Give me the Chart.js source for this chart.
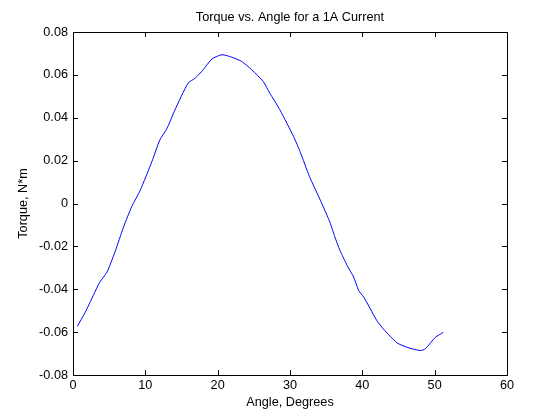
<!DOCTYPE html>
<html>
<head>
<meta charset="utf-8">
<script src="https://cdn.jsdelivr.net/npm/chart.js@4"></script>
<style>
  html, body { margin: 0; padding: 0; background: #fff; }
  #wrap { width: 560px; height: 420px; }
</style>
</head>
<body>
<div id="wrap"><canvas id="torque"></canvas></div>
<script>
// values
var angle = [0.6, 1.7, 2.8, 3.7, 4.7, 5.8, 7.0, 8.1, 9.3, 10.9, 12.0, 13.0, 14.1, 15.9,
  16.9, 18.0, 19.2, 20.6, 21.9, 23.3, 24.7, 26.3, 27.2, 28.6, 30.5, 31.4, 32.7, 34.2,
  35.5, 36.2, 36.9, 37.9, 38.8, 39.5, 40.2, 41.1, 42.0, 42.9, 44.8, 46.2, 48.0, 48.7,
  50.1, 51.2];
var torque = [-0.0573, -0.0507, -0.0429, -0.0367, -0.0320, -0.0226, -0.0109, -0.0016,
  0.0062, 0.0195, 0.0296, 0.0351, 0.0437, 0.0561, 0.0585, 0.0624, 0.0674, 0.0694, 0.0683,
  0.0663, 0.0624, 0.0569, 0.0515, 0.0437, 0.0312, 0.0241, 0.0125, 0.0015, -0.0086,
  -0.0156, -0.0218, -0.0289, -0.0343, -0.0406, -0.0437, -0.0491, -0.0546, -0.0585,
  -0.0650, -0.0671, -0.0686, -0.0678, -0.0624, -0.0601];

var xTicks = [0, 10, 20, 30, 40, 50, 60];
var xTickLabels = ['0', '10', '20', '30', '40', '50', '60'];
var yTicks = [-0.08, -0.06, -0.04, -0.02, 0, 0.02, 0.04, 0.06, 0.08];
var yTickLabels = ['-0.08', '-0.06', '-0.04', '-0.02', '0', '0.02', '0.04', '0.06', '0.08'];

var chartTitle = 'Torque vs. Angle for a 1A Current';
var xTitle = 'Angle, Degrees';
var yTitle = 'Torque, N*m';

var fontFam = '"Liberation Sans", Arial, sans-serif';
var fontSize = 12.7;

var points = angle.map(function (a, i) { return { x: a, y: torque[i] }; });

// matlab style box, inward ticks on all sides, title over the axes
var boxPlugin = {
  id: 'matlabBox',
  afterDraw: function (chart) {
    var ctx = chart.ctx;
    var a = chart.chartArea;
    var xs = chart.scales.x, ys = chart.scales.y;
    var tl = 5;
    ctx.save();
    ctx.strokeStyle = '#000';
    ctx.lineWidth = 1;
    ctx.strokeRect(Math.round(a.left) + 0.5, Math.round(a.top) + 0.5,
      Math.round(a.right - a.left), Math.round(a.bottom - a.top));
    ctx.beginPath();
    xTicks.forEach(function (v) {
      var px = Math.round(xs.getPixelForValue(v)) + 0.5;
      ctx.moveTo(px, a.bottom); ctx.lineTo(px, a.bottom - tl);
      ctx.moveTo(px, a.top); ctx.lineTo(px, a.top + tl);
    });
    yTicks.forEach(function (v) {
      var py = Math.round(ys.getPixelForValue(v)) + 0.5;
      ctx.moveTo(a.left, py); ctx.lineTo(a.left + tl, py);
      ctx.moveTo(a.right, py); ctx.lineTo(a.right - tl, py);
    });
    ctx.stroke();
    ctx.fillStyle = '#000';
    ctx.font = fontSize + 'px ' + fontFam;
    ctx.textAlign = 'center';
    ctx.textBaseline = 'middle';
    ctx.fillText(chartTitle, (a.left + a.right) / 2, a.top - 14.5);
    ctx.restore();
  }
};

new Chart(document.getElementById('torque'), {
  type: 'scatter',
  data: {
    datasets: [{
      label: yTitle,
      data: points,
      showLine: true,
      borderColor: '#0000ff',
      borderWidth: 1,
      pointRadius: 0,
      tension: 0.2,
      fill: false
    }]
  },
  options: {
    responsive: true,
    maintainAspectRatio: false,
    animation: false,
    layout: { padding: { top: 32, right: 53, left: 0, bottom: 0 } },
    plugins: {
      legend: { display: false },
      tooltip: { enabled: false },
      title: { display: false }
    },
    scales: {
      x: {
        type: 'linear',
        min: 0,
        max: 60,
        afterBuildTicks: function (s) { s.ticks = xTicks.map(function (v) { return { value: v }; }); },
        afterFit: function (s) { s.height = 45; },
        grid: { display: false, drawTicks: false },
        border: { display: false },
        ticks: {
          padding: 3,
          color: '#000',
          font: { family: fontFam, size: fontSize },
          maxRotation: 0,
          callback: function (v) { var i = xTicks.indexOf(v); return i >= 0 ? xTickLabels[i] : ''; }
        },
        title: {
          display: true,
          text: xTitle,
          color: '#000',
          font: { family: fontFam, size: fontSize },
          padding: { top: 0, bottom: 10 }
        }
      },
      y: {
        type: 'linear',
        min: -0.08,
        max: 0.08,
        afterBuildTicks: function (s) { s.ticks = yTicks.map(function (v) { return { value: v }; }); },
        afterFit: function (s) { s.width = 73; },
        grid: { display: false, drawTicks: false },
        border: { display: false },
        ticks: {
          padding: 5,
          color: '#000',
          font: { family: fontFam, size: fontSize },
          callback: function (v) {
            for (var i = 0; i < yTicks.length; i++) {
              if (Math.abs(yTicks[i] - v) < 1e-9) return yTickLabels[i];
            }
            return '';
          }
        },
        title: {
          display: true,
          text: yTitle,
          color: '#000',
          font: { family: fontFam, size: fontSize },
          padding: { top: 16, bottom: 0 }
        }
      }
    }
  },
  plugins: [boxPlugin]
});
</script>
</body>
</html>
